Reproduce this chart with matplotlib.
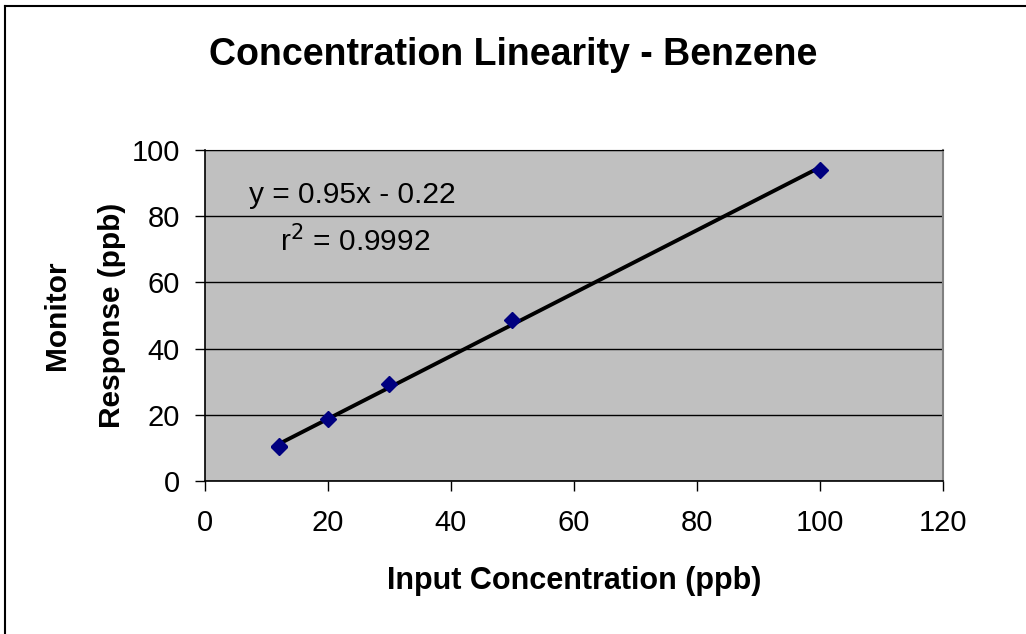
import numpy as np
from matplotlib import pyplot as plt
from matplotlib.lines import Line2D

plt.rcParams['font.family'] = ['Liberation Sans', 'DejaVu Sans']

# data
conc = [12, 12, 20, 30, 50, 100]
response = [10.2, 10.6, 18.6, 29.3, 48.6, 94.0]
slope = 0.95
intercept = -0.22
r2 = 0.9992

fig = plt.figure(figsize=(10.26, 6.34), dpi=100)
ax = fig.add_axes([0.1998, 0.2413, 0.7193, 0.5221])
ax.set_facecolor('#C0C0C0')

# trendline
xl = np.array([min(conc), max(conc)])
ax.plot(xl, slope * xl + intercept, color='black', lw=2.8, zorder=3)
ax.plot(conc, response, linestyle='none', marker='D', ms=8.5,
        color='#000080', zorder=4)

ax.set_xlim(0, 120)
ax.set_ylim(0, 100)
ax.set_xticks(range(0, 121, 20))
ax.set_yticks(range(0, 101, 20))
ax.yaxis.grid(True, color='black', lw=1)
ax.set_axisbelow(True)
ax.tick_params(direction='out', length=7, width=1, labelsize=21)
ax.tick_params(axis='x', pad=13)
ax.tick_params(axis='y', pad=11)
for s in ['left', 'bottom']:
    ax.spines[s].set_color('black')
    ax.spines[s].set_linewidth(1.2)
ax.spines['top'].set_color('black')
ax.spines['right'].set_color('#808080')
ax.spines['right'].set_linewidth(1.5)

ax.text(24, 86.4, 'y = 0.95x - 0.22', fontsize=21.5, ha='center', va='center')
ax.text(24.4, 72.5, 'r$^2$ = %.4f' % r2, fontsize=21.5, ha='center', va='center')

ax.set_xlabel('Input Concentration (ppb)', fontsize=22, fontweight='bold', labelpad=21)
ax.set_ylabel('Monitor\nResponse (ppb)', fontsize=21.5, fontweight='bold', labelpad=4,
              linespacing=2.25)
fig.text(0.5, 0.913, 'Concentration Linearity - Benzene', fontsize=27,
         fontweight='bold', ha='center', va='center')

# chart frame (top and left edges visible)
fig.add_artist(Line2D([0.005, 1.0], [0.991, 0.991], transform=fig.transFigure,
                      color='black', lw=1.5))
fig.add_artist(Line2D([0.005, 0.005], [0.0, 0.991], transform=fig.transFigure,
                      color='black', lw=1.5))

fig.savefig('out.png', dpi=100)
